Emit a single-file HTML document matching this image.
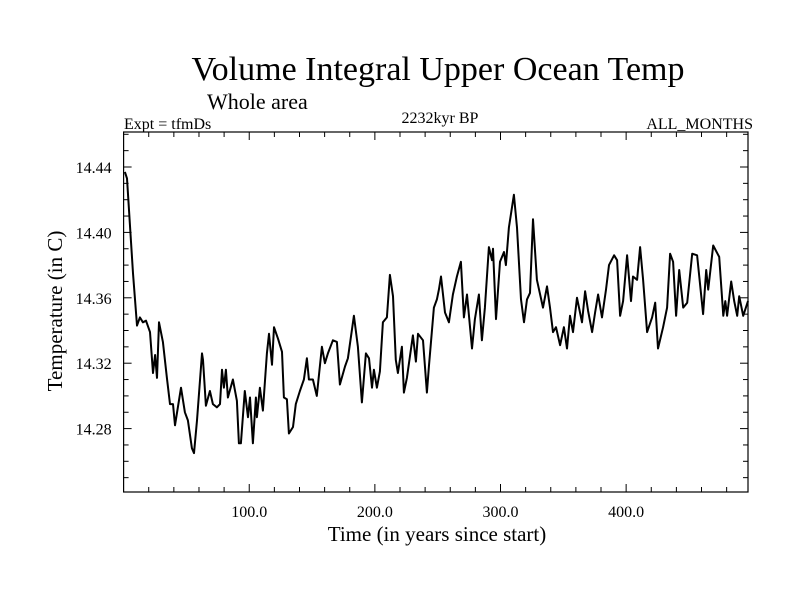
<!DOCTYPE html>
<html><head><meta charset="utf-8"><style>
body{margin:0;background:#fff;}
svg text{font-family:"Liberation Serif",serif;fill:#000;}
</style></head><body>
<svg id="chart" width="800" height="600" xmlns="http://www.w3.org/2000/svg">
<text x="438" y="80" font-size="34" text-anchor="middle">Volume Integral Upper Ocean Temp</text>
<text x="207" y="109" font-size="22">Whole area</text>
<text x="124" y="129" font-size="16">Expt = tfmDs</text>
<text x="440" y="123" font-size="16" text-anchor="middle">2232kyr BP</text>
<text x="753" y="129" font-size="16" text-anchor="end">ALL_MONTHS</text>
<text transform="translate(62,311) rotate(-90)" font-size="21" text-anchor="middle">Temperature (in C)</text>
<text x="437" y="541" font-size="21" text-anchor="middle">Time (in years since start)</text>
<g id="axes"></g>
<path id="series" fill="none" stroke="#000" stroke-width="2" stroke-linejoin="round"></path>
</svg>
<script>
const years = [1,2.7,5.1,7.5,9.1,10.7,13.0,15.4,17.8,21.0,23.4,25.1,26.6,28.2,31.3,34.5,36.9,39.3,40.9,45.7,48.8,51.2,54.4,56.0,58.4,62.4,63.2,65.5,68.7,71.1,74.3,76.7,78.3,79.8,81.4,83.0,87.0,90.2,91.8,93.4,96.5,99.0,100.6,102.9,105.3,106.1,108.5,110.9,114.1,115.7,118.1,119.7,122.9,126.1,127.6,130.0,131.6,134.8,137.1,140.3,143.5,145.9,147.5,150.7,153.8,157.8,160.2,162.6,166.6,169.8,172.2,176.2,178.5,183.3,186.5,189.7,192.9,195.3,197.7,199.2,201.6,204.0,206.4,209.6,212.0,214.4,216.7,218.3,221.5,223.1,225.5,230.3,232.7,234.3,238.3,241.4,243.0,247.0,249.4,251.0,252.6,255.8,258.9,262.1,265.3,268.5,270.9,273.3,277.3,279.6,282.8,285.2,287.6,290.8,293.2,294.0,296.4,299.6,302.8,304.3,306.7,310.7,313.1,316.3,318.7,321.1,323.5,325.9,329.0,333.8,337.0,339.4,341.8,344.2,347.4,350.5,352.9,355.3,357.7,360.9,364.9,367.3,369.7,372.9,375.3,377.7,380.8,384.0,386.4,390.4,392.8,395.2,397.6,400.8,403.9,405.5,408.7,411.1,413.5,416.7,420.7,423.1,425.4,429.4,432.6,435.0,437.4,439.8,442.2,445.4,448.6,452.6,456.5,461.3,463.7,465.3,469.3,474.1,477.3,478.9,480.4,483.6,486.0,488.4,490.0,493.2,497.0];
const temps = [14.437,14.433,14.404,14.375,14.359,14.343,14.348,14.345,14.346,14.339,14.314,14.325,14.311,14.345,14.333,14.311,14.295,14.295,14.282,14.305,14.290,14.285,14.268,14.265,14.285,14.326,14.322,14.294,14.303,14.295,14.293,14.295,14.316,14.305,14.316,14.299,14.310,14.297,14.271,14.271,14.303,14.287,14.299,14.271,14.299,14.287,14.305,14.291,14.326,14.338,14.319,14.342,14.335,14.327,14.299,14.298,14.277,14.281,14.295,14.303,14.310,14.323,14.310,14.310,14.300,14.330,14.320,14.326,14.334,14.333,14.307,14.318,14.323,14.349,14.330,14.296,14.326,14.323,14.305,14.316,14.305,14.315,14.345,14.348,14.374,14.361,14.322,14.314,14.330,14.302,14.311,14.337,14.321,14.338,14.334,14.302,14.318,14.354,14.359,14.365,14.373,14.351,14.345,14.362,14.373,14.382,14.348,14.362,14.329,14.347,14.362,14.334,14.354,14.391,14.383,14.390,14.347,14.382,14.388,14.380,14.403,14.423,14.403,14.359,14.345,14.359,14.363,14.408,14.371,14.354,14.367,14.354,14.339,14.342,14.331,14.342,14.329,14.349,14.339,14.360,14.345,14.364,14.352,14.339,14.351,14.362,14.348,14.365,14.380,14.386,14.383,14.349,14.358,14.386,14.358,14.373,14.371,14.391,14.371,14.339,14.348,14.357,14.329,14.342,14.354,14.387,14.382,14.349,14.377,14.354,14.357,14.387,14.386,14.350,14.377,14.365,14.392,14.385,14.349,14.358,14.349,14.370,14.358,14.349,14.361,14.349,14.358,14.375,14.363];
const xTicks = [100, 200, 300, 400];
const xTickLabels = ["100.0", "200.0", "300.0", "400.0"];
const yTicks = [14.28, 14.32, 14.36, 14.40, 14.44];
const yTickLabels = ["14.28", "14.32", "14.36", "14.40", "14.44"];

const L = 123.6, R = 748, T = 132, B = 492;
const X0 = 0, X1 = 497;
const yRef = 14.44, yRefPx = 167, pxPerUnit = 1635;
function xs(v){ return L + (v - X0) / (X1 - X0) * (R - L); }
function ys(v){ return yRefPx - (v - yRef) * pxPerUnit; }

const NS = "http://www.w3.org/2000/svg";
const g = document.getElementById('axes');
function mk(tag, attrs){ const e = document.createElementNS(NS, tag); for (const k in attrs) e.setAttribute(k, attrs[k]); return e; }

const frame = mk('rect', {x:L, y:T, width:R-L, height:B-T, fill:'none', stroke:'#000', 'stroke-width':1.2});


g.appendChild(frame);

for (let v = 20; v < X1; v += 20) {
  const major = v % 100 === 0;
  const len = major ? 8 : 5;
  const x = xs(v);
  const t1 = mk('line', {x1:x, y1:B, x2:x, y2:B-len, stroke:'#000', 'stroke-width':1});
  
  
  g.appendChild(t1);
  const t2 = mk('line', {x1:x, y1:T, x2:x, y2:T+len, stroke:'#000', 'stroke-width':1});
  
  
  g.appendChild(t2);
}
xTicks.forEach((v, i) => {
  const t = mk('text', {x:xs(v), y:B+25, 'font-size':16, 'text-anchor':'middle'});
  t.textContent = xTickLabels[i];
  
  
  g.appendChild(t);
});
for (let k = 0; k < 30; k++) {
  const v = 14.25 + k * 0.01;
  const y = ys(v);
  if (y < T + 1 || y > B - 1) continue;
  const major = Math.round(v * 100) % 4 === 0;
  const len = major ? 8 : 5;
  const t1 = mk('line', {x1:L, y1:y, x2:L+len, y2:y, stroke:'#000', 'stroke-width':1});
  
  
  g.appendChild(t1);
  const t2 = mk('line', {x1:R, y1:y, x2:R-len, y2:y, stroke:'#000', 'stroke-width':1});
  
  
  g.appendChild(t2);
}
yTicks.forEach((v, i) => {
  const t = mk('text', {x:L-12, y:ys(v)+6, 'font-size':16, 'text-anchor':'end'});
  t.textContent = yTickLabels[i];
  
  
  g.appendChild(t);
});

let d = '';
years.forEach((yr, i) => { d += (i ? 'L' : 'M') + xs(yr).toFixed(1) + ',' + ys(temps[i]).toFixed(1); });
document.getElementById('series').setAttribute('d', d);
</script>
</body></html>
